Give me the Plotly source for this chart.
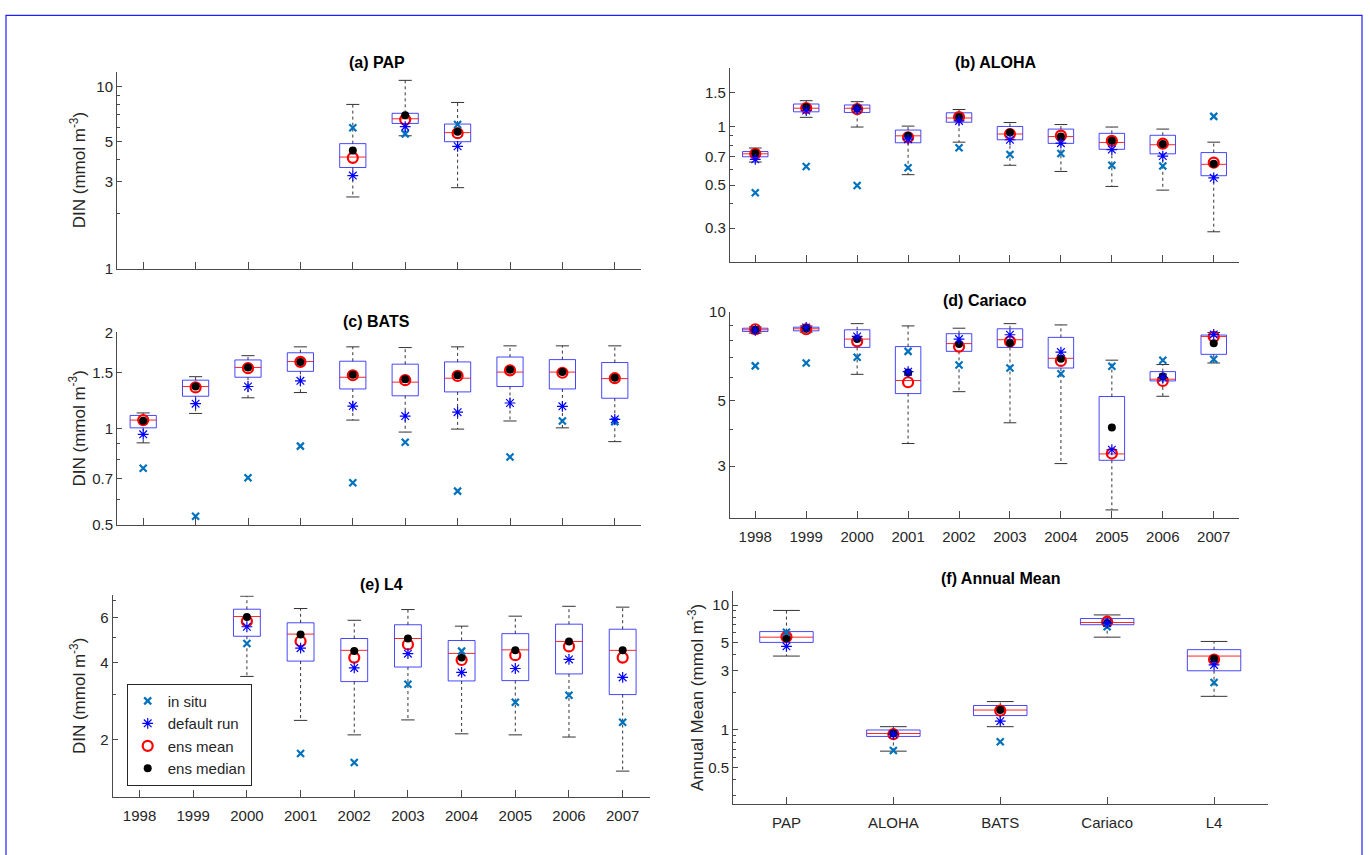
import math
import plotly.graph_objects as go

W, H = 1370, 855

# ---------------- data ----------------
years = ["1998", "1999", "2000", "2001", "2002", "2003", "2004", "2005", "2006", "2007"]
stations = ["PAP", "ALOHA", "BATS", "Cariaco", "L4"]

# (a) PAP
pap_lo = [None, None, None, None, 2.48, 5.38, 2.79, None, None, None]
pap_q1 = [None, None, None, None, 3.60, 6.29, 4.99, None, None, None]
pap_med = [None, None, None, None, 4.11, 6.67, 5.60, None, None, None]
pap_q3 = [None, None, None, None, 4.87, 7.15, 6.24, None, None, None]
pap_hi = [None, None, None, None, 8.00, 10.85, 8.20, None, None, None]
pap_insitu = [None, None, None, None, 5.96, 5.51, 6.20, None, None, None]
pap_default = [None, None, None, None, 3.25, 6.04, 4.71, None, None, None]
pap_ensmean = [None, None, None, None, 4.07, 6.60, 5.56, None, None, None]
pap_ensmedian = [None, None, None, None, 4.47, 6.98, 5.67, None, None, None]

# (b) ALOHA
aloha_lo = [0.658, 1.119, 0.997, 0.566, 0.833, 0.633, 0.588, 0.492, 0.471, 0.287]
aloha_q1 = [0.700, 1.195, 1.186, 0.827, 1.056, 0.857, 0.821, 0.765, 0.725, 0.559]
aloha_med = [0.725, 1.247, 1.247, 0.898, 1.110, 0.918, 0.890, 0.830, 0.808, 0.640]
aloha_q3 = [0.745, 1.311, 1.296, 0.962, 1.181, 1.004, 0.973, 0.925, 0.904, 0.736]
aloha_hi = [0.777, 1.364, 1.348, 1.008, 1.228, 1.052, 1.027, 0.997, 0.973, 0.833]
aloha_insitu = [0.457, 0.623, 0.498, 0.614, 0.780, 0.720, 0.728, 0.633, 0.628, 1.132]
aloha_default = [0.679, 1.214, 1.237, 0.863, 1.072, 0.857, 0.823, 0.763, 0.706, 0.545]
aloha_ensmean = [0.725, 1.250, 1.233, 0.883, 1.123, 0.918, 0.900, 0.846, 0.818, 0.653]
aloha_ensmedian = [0.730, 1.262, 1.247, 0.898, 1.123, 0.933, 0.890, 0.846, 0.815, 0.645]

# (c) BATS
bats_lo = [0.904, 1.117, 1.250, 1.298, 1.065, 0.977, 0.998, 1.058, 1.007, 0.912]
bats_q1 = [1.007, 1.264, 1.449, 1.512, 1.332, 1.268, 1.304, 1.356, 1.332, 1.246]
bats_med = [1.065, 1.356, 1.555, 1.622, 1.449, 1.399, 1.439, 1.504, 1.504, 1.435]
bats_q3 = [1.101, 1.419, 1.641, 1.728, 1.626, 1.592, 1.618, 1.676, 1.645, 1.611]
bats_hi = [1.121, 1.455, 1.692, 1.803, 1.803, 1.794, 1.803, 1.816, 1.816, 1.816]
bats_insitu = [0.753, 0.533, 0.703, 0.883, 0.679, 0.908, 0.639, 0.817, 1.058, 1.052]
bats_default = [0.961, 1.198, 1.356, 1.412, 1.178, 1.096, 1.127, 1.204, 1.176, 1.071]
bats_ensmean = [1.065, 1.347, 1.547, 1.618, 1.470, 1.419, 1.463, 1.523, 1.497, 1.439]
bats_ensmedian = [1.060, 1.356, 1.555, 1.618, 1.476, 1.429, 1.470, 1.530, 1.504, 1.445]

# (d) Cariaco
car_lo = [8.49, 8.55, 6.15, 3.58, 5.37, 4.21, 3.06, 2.13, 5.18, 6.72]
car_q1 = [8.60, 8.64, 7.59, 5.29, 7.36, 7.59, 6.46, 3.14, 5.84, 7.19]
car_med = [8.71, 8.78, 8.10, 5.86, 7.82, 8.06, 6.97, 3.30, 5.92, 8.27]
car_q3 = [8.82, 8.89, 8.71, 7.64, 8.45, 8.78, 8.21, 5.17, 6.28, 8.36]
car_hi = [8.91, 8.98, 9.14, 8.98, 8.82, 9.14, 9.05, 6.87, 6.64, 8.53]
car_insitu = [6.57, 6.72, 7.03, 7.36, 6.61, 6.46, 6.18, 6.55, 6.87, 6.92]
car_default = [8.68, 8.87, 8.27, 6.28, 8.10, 8.38, 7.32, 3.41, 6.00, 8.40]
car_ensmean = [8.75, 8.75, 7.96, 5.78, 7.64, 7.96, 6.83, 3.31, 5.84, 8.25]
car_ensmedian = [8.71, 8.82, 8.10, 6.24, 7.80, 7.86, 6.95, 4.06, 6.05, 7.84]

# (e) L4
l4_lo = [None, None, 3.53, 2.38, 2.09, 2.39, 2.11, 2.09, 2.05, 1.51]
l4_q1 = [None, None, 5.06, 4.05, 3.37, 3.84, 3.39, 3.40, 3.61, 3.00]
l4_med = [None, None, 6.04, 5.16, 4.46, 4.96, 4.34, 4.48, 4.83, 4.46]
l4_q3 = [None, None, 6.45, 5.71, 4.96, 5.61, 4.87, 5.18, 5.64, 5.39]
l4_hi = [None, None, 7.25, 6.49, 5.84, 6.43, 5.54, 6.06, 6.62, 6.57]
l4_insitu = [None, None, 4.74, 1.77, 1.63, 3.29, 4.43, 2.80, 2.98, 2.34]
l4_default = [None, None, 5.51, 4.55, 3.81, 4.33, 3.66, 3.79, 4.11, 3.50]
l4_ensmean = [None, None, 5.79, 4.84, 4.18, 4.70, 4.09, 4.27, 4.62, 4.18]
l4_ensmedian = [None, None, 6.02, 5.14, 4.43, 4.96, 4.18, 4.46, 4.83, 4.46]

# (f) Annual mean
ann_lo = [3.91, 0.677, 1.063, 5.54, 1.86]
ann_q1 = [5.03, 0.888, 1.305, 6.97, 2.98]
ann_med = [5.54, 0.937, 1.445, 7.26, 3.91]
ann_q3 = [6.14, 1.000, 1.571, 7.81, 4.40]
ann_hi = [9.07, 1.063, 1.689, 8.35, 5.12]
ann_insitu = [6.06, 0.684, 0.805, 6.72, 2.40]
ann_default = [4.68, 0.925, 1.177, 7.18, 3.32]
ann_ensmean = [5.57, 0.925, 1.428, 7.37, 3.67]
ann_ensmedian = [5.42, 0.937, 1.445, 7.21, 3.72]

# tick labels
ticks_a = [1, 3, 5, 10]
ticks_b = [0.3, 0.5, 0.7, 1, 1.5]
ticks_c = [0.5, 0.7, 1, 1.5, 2]
ticks_d = [3, 5, 10]
ticks_e = [2, 4, 6]
ticks_f = [0.5, 1, 3, 5, 10]

# ---------------- style ----------------
FONT = "Liberation Sans, Arial, Helvetica, sans-serif"
AX = "#4a4a4a"
TXT = "#262626"
BOX_HALF = 0.25
CAP_HALF = 0.125

fig = go.Figure()


def add_panel(n, xa, ya, lo, q1, med, q3, hi, insitu, default, ensmean, ensmedian, legend=False):
    pos = list(range(1, n + 1))
    wx, wy, bx, by, mx, my, cx, cy = [], [], [], [], [], [], [], []
    for p, a, b, m, c, d in zip(pos, lo, q1, med, q3, hi):
        if m is None:
            continue
        wx += [p, p, None, p, p, None]
        wy += [c, d, None, b, a, None]
        cx += [p - CAP_HALF, p + CAP_HALF, None, p - CAP_HALF, p + CAP_HALF, None]
        cy += [d, d, None, a, a, None]
        bx += [p - BOX_HALF, p + BOX_HALF, p + BOX_HALF, p - BOX_HALF, p - BOX_HALF, None]
        by += [b, b, c, c, b, None]
        mx += [p - BOX_HALF, p + BOX_HALF, None]
        my += [m, m, None]
    common = dict(xaxis=xa, yaxis=ya, hoverinfo="skip", showlegend=False)
    fig.add_trace(go.Scatter(x=wx, y=wy, mode="lines",
                             line=dict(color="black", width=0.8, dash="3px,3px"), **common))
    fig.add_trace(go.Scatter(x=cx, y=cy, mode="lines",
                             line=dict(color="#333333", width=1), **common))
    fig.add_trace(go.Scatter(x=bx, y=by, mode="lines",
                             line=dict(color="rgba(0,0,255,0.72)", width=1), **common))
    fig.add_trace(go.Scatter(x=mx, y=my, mode="lines",
                             line=dict(color="rgba(255,0,0,0.85)", width=1), **common))
    mk = dict(xaxis=xa, yaxis=ya, mode="markers", hoverinfo="skip", showlegend=legend)
    fig.add_trace(go.Scatter(x=pos, y=ensmean, name="ens mean", legendrank=3,
                             marker=dict(symbol="circle-open", size=10, color="#ff0000",
                                         line=dict(width=2.2, color="#ff0000")), **mk))
    fig.add_trace(go.Scatter(x=pos, y=ensmedian, name="ens median", legendrank=4,
                             marker=dict(symbol="circle", size=8, color="black"), **mk))
    fig.add_trace(go.Scatter(x=pos, y=insitu, name="in situ", legendrank=1,
                             marker=dict(symbol="x-thin-open", size=7, color="#0072BD",
                                         line=dict(width=2.2, color="#0072BD")), **mk))
    fig.add_trace(go.Scatter(x=pos, y=default, name="default run", legendrank=2,
                             marker=dict(symbol="asterisk-open", size=9, color="#0000ff",
                                         line=dict(width=1.2, color="#0000ff")), **mk))


add_panel(10, "x", "y", pap_lo, pap_q1, pap_med, pap_q3, pap_hi, pap_insitu, pap_default, pap_ensmean, pap_ensmedian)
add_panel(10, "x2", "y2", aloha_lo, aloha_q1, aloha_med, aloha_q3, aloha_hi, aloha_insitu, aloha_default, aloha_ensmean, aloha_ensmedian)
add_panel(10, "x3", "y3", bats_lo, bats_q1, bats_med, bats_q3, bats_hi, bats_insitu, bats_default, bats_ensmean, bats_ensmedian)
add_panel(10, "x4", "y4", car_lo, car_q1, car_med, car_q3, car_hi, car_insitu, car_default, car_ensmean, car_ensmedian)
add_panel(10, "x5", "y5", l4_lo, l4_q1, l4_med, l4_q3, l4_hi, l4_insitu, l4_default, l4_ensmean, l4_ensmedian, legend=True)
add_panel(5, "x6", "y6", ann_lo, ann_q1, ann_med, ann_q3, ann_hi, ann_insitu, ann_default, ann_ensmean, ann_ensmedian)


def fx(p):
    return p / W


def fy(p):
    return 1 - p / H


def fmt(v):
    return ("%g" % v)


def minor_vals(lo, hi, majors):
    out = []
    for k in range(-2, 3):
        for m in range(1, 10):
            v = m * 10 ** k
            if lo * 1.0001 < v < hi * 0.9999 and all(abs(v - t) > 1e-9 for t in majors):
                out.append(v)
    return out


def xcfg(dom, anchor, labels, show):
    n = len(labels)
    return dict(domain=dom, anchor=anchor, range=[0.5, n + 0.5], tickmode="array",
                tickvals=list(range(1, n + 1)), ticktext=labels, showticklabels=show,
                ticks="inside", ticklen=7, tickwidth=1, tickcolor=AX, showline=True,
                linecolor=AX, linewidth=1, showgrid=False, zeroline=False,
                tickfont=dict(family=FONT, size=15, color=TXT), ticklabelstandoff=5)


def ycfg(dom, anchor, rng, majors):
    return dict(domain=dom, anchor=anchor, type="log",
                range=[math.log10(rng[0]), math.log10(rng[1])], tickmode="array",
                tickvals=majors, ticktext=[fmt(v) for v in majors], ticks="inside",
                ticklen=5, tickwidth=1, tickcolor=AX, showline=True, linecolor=AX,
                linewidth=1, showgrid=False, zeroline=False,
                minor=dict(tickmode="array", tickvals=minor_vals(rng[0], rng[1], majors),
                           ticks="inside", ticklen=3, tickcolor=AX, showgrid=False),
                tickfont=dict(family=FONT, size=15, color=TXT))


XL = [fx(117), fx(641)]
XR = [fx(729.8), fx(1239.2)]

fig.update_layout(
    width=W, height=H, margin=dict(l=0, r=0, t=0, b=0),
    paper_bgcolor="white", plot_bgcolor="white",
    font=dict(family=FONT, color=TXT),
    xaxis=xcfg(XL, "y", years, False),
    yaxis=ycfg([fy(265), fy(64)], "x", [1, 12.1], ticks_a),
    xaxis2=xcfg(XR, "y2", years, False),
    yaxis2=ycfg([fy(258.3), fy(60.7)], "x2", [0.2, 2.0], ticks_b),
    xaxis3=xcfg(XL, "y3", years, False),
    yaxis3=ycfg([fy(526.7), fy(330)], "x3", [0.5, 2.0], ticks_c),
    xaxis4=xcfg(XR, "y4", years, True),
    yaxis4=ycfg([fy(519.3), fy(309.3)], "x4", [2.0, 10.0], ticks_d),
    xaxis5=xcfg([fx(112.7), fx(649.5)], "y5", years, True),
    yaxis5=ycfg([fy(804.3), fy(598.3)], "x5", [1.194, 7.30], ticks_e),
    xaxis6=xcfg([fx(733), fx(1267.5)], "y6", stations, True),
    yaxis6=ycfg([fy(811), fy(593.3)], "x6", [0.256, 13.1], ticks_f),
    legend=dict(x=fx(126.7), y=fy(688.3), xanchor="left", yanchor="top",
                bordercolor="#262626", borderwidth=1, bgcolor="white",
                font=dict(family=FONT, size=15, color=TXT), tracegroupgap=0),
    showlegend=True,
)

titles = [("(a) PAP", 377, 55), ("(b) ALOHA", 996, 55), ("(c) BATS", 376, 319),
          ("(d) Cariaco", 985, 297), ("(e) L4", 381, 587), ("(f) Annual Mean", 1000, 581)]
for t, x, y in titles:
    fig.add_annotation(text="<b>%s</b>" % t, x=fx(x), y=fy(y), xref="paper", yref="paper",
                       xanchor="center", yanchor="middle", showarrow=False,
                       font=dict(family=FONT, size=16, color="black"))

ylabels = [("DIN (mmol m<sup>-3</sup>)", 78, 164.5), ("DIN (mmol m<sup>-3</sup>)", 78, 428),
           ("DIN (mmol m<sup>-3</sup>)", 78, 701), ("Annual Mean (mmol m<sup>-3</sup>)", 696, 702)]
for t, x, y in ylabels:
    fig.add_annotation(text=t, x=fx(x), y=fy(y), xref="paper", yref="paper",
                       xanchor="center", yanchor="middle", showarrow=False, textangle=-90,
                       font=dict(family=FONT, size=17, color=TXT))

fig.add_shape(type="rect", xref="paper", yref="paper", x0=fx(6), x1=fx(1362),
              y0=-0.05, y1=fy(6.5), line=dict(color="#2020ff", width=1.2),
              fillcolor="rgba(0,0,0,0)", layer="above")

fig.write_html("out.html")
